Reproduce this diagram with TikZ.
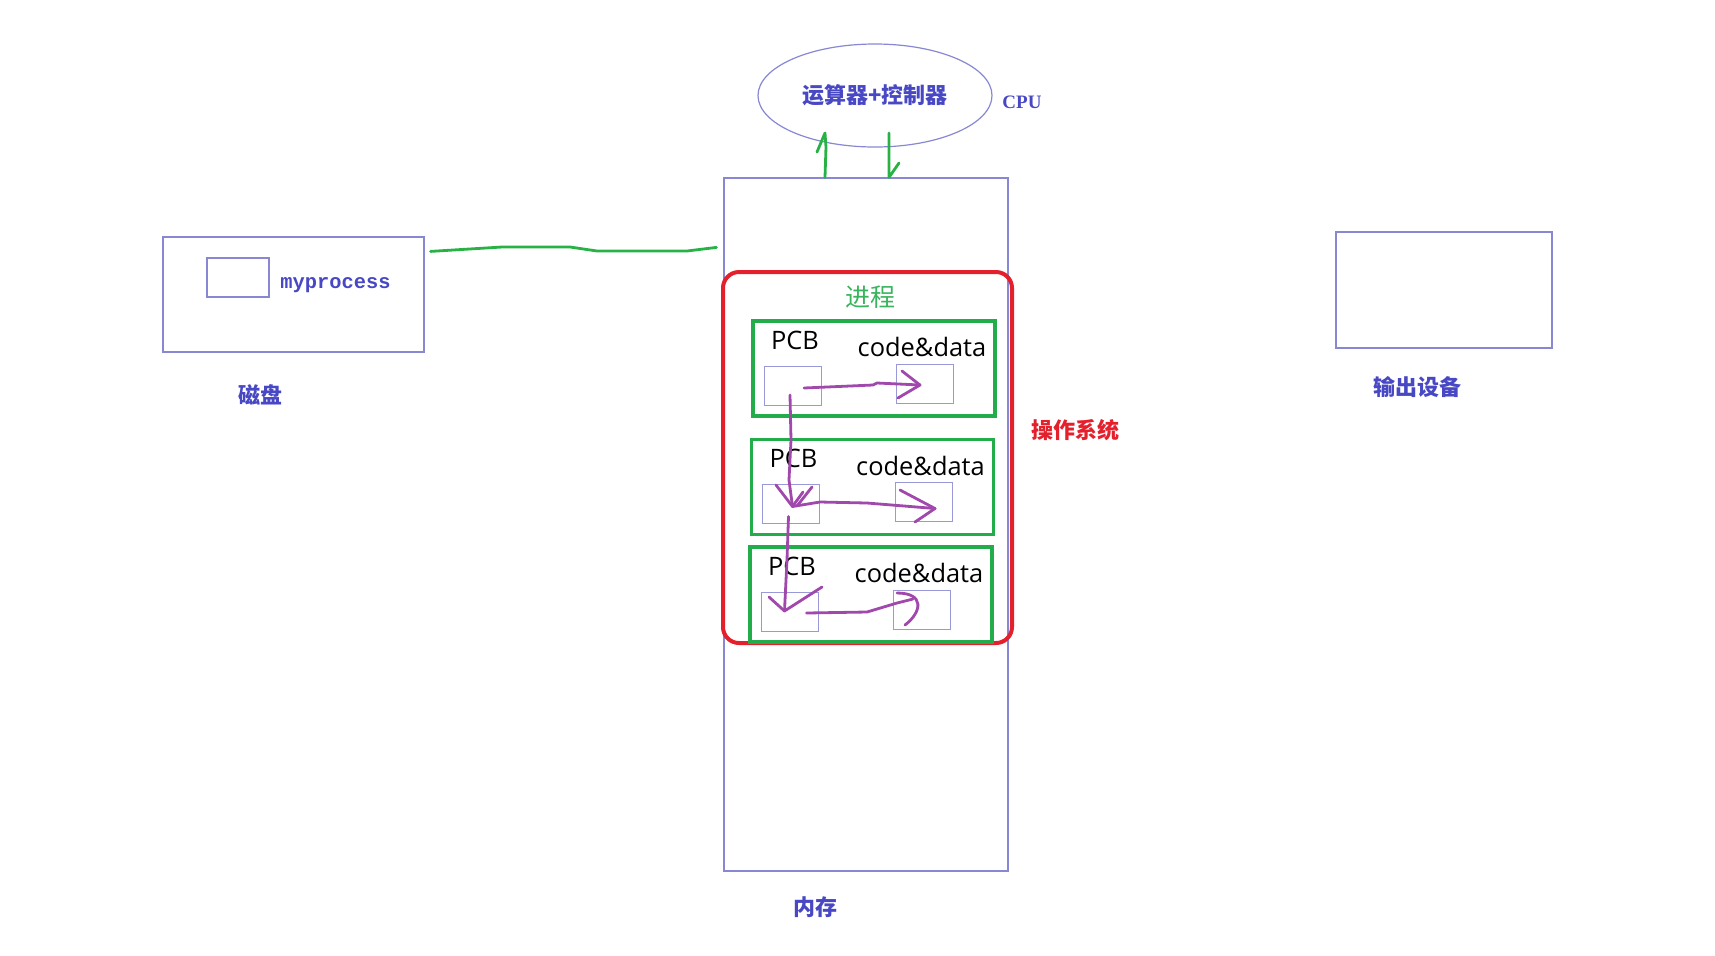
\documentclass[tikz,border=0pt]{standalone}
\usepackage{fontspec}
\setmainfont{Liberation Serif}
\setmonofont{Liberation Mono}
\newfontfamily\cjkfont{Noto Sans CJK SC}
\newfontfamily\latinfont{Open Sans}
\usetikzlibrary{arrows.meta, positioning, shapes.geometric}

\definecolor{hwline}{RGB}{135,135,212}
\definecolor{hwtext}{RGB}{72,72,196}
\definecolor{osred}{RGB}{228,32,44}
\definecolor{procgreen}{RGB}{34,172,74}
\definecolor{pengreen}{RGB}{40,178,70}
\definecolor{penpurple}{RGB}{160,72,172}

\tikzset{
  hwbox/.style={draw=hwline, line width=0.6pt, inner sep=0pt},
  hwlabel/.style={text=hwtext, font=\cjkfont\bfseries\fontsize{11}{13}\selectfont},
  procbox/.style={draw=procgreen, line width=1.8pt, inner sep=0pt,
                  minimum width=121pt, minimum height=47.5pt},
  cellbox/.style={draw=hwline!85, line width=0.5pt, inner sep=0pt,
                  minimum width=28.5pt, minimum height=19.5pt},
  proctext/.style={font=\latinfont\fontsize{12.7}{15}\selectfont, inner sep=0pt},
  pen/.style={draw=penpurple, line width=1.4pt, line cap=round, line join=round},
  greenpen/.style={draw=pengreen, line width=1.4pt, line cap=round, line join=round}
}

\begin{document}
\begin{tikzpicture}[x=0.5pt, y=-0.5pt]
  \useasboundingbox (0,0) rectangle (1715,955);

  % cpu
  \node[hwbox, hwlabel, ellipse, minimum width=117pt, minimum height=51.5pt]
    (alu) at (875,95.5) {运算器+控制器};
  \node[text=hwtext, font=\bfseries\fontsize{9.5}{11}\selectfont] (cpu) at (1022,102) {CPU};

  % memory
  \node[hwbox, minimum width=142pt, minimum height=346.5pt] (mem) at (866,524.5) {};
  \node[hwlabel] (memlbl) at (815,907) {内存};

  % disk
  \node[hwbox, minimum width=130.5pt, minimum height=57.5pt] (disk) at (293.5,294.5) {};
  \node[hwbox, minimum width=31pt, minimum height=19.5pt] (file) at (238,277.5) {};
  \node[text=hwtext, font=\ttfamily\bfseries\fontsize{10.2}{12}\selectfont, anchor=west,
        inner sep=0pt] (fname) at (280,285) {myprocess};
  \node[hwlabel] (disklbl) at (260,395) {磁盘};

  % output device
  \node[hwbox, minimum width=108pt, minimum height=58pt] (out) at (1444,290) {};
  \node[hwlabel] (outlbl) at (1417,387) {输出设备};

  % operating system
  \node[draw=osred, line width=2pt, rounded corners=8pt, inner sep=0pt,
        minimum width=144.5pt, minimum height=185.5pt] (os) at (867.5,457.5) {};
  \node[hwlabel, text=osred] (oslbl) at (1075,430) {操作系统};
  \node[text=procgreen!90!white, font=\cjkfont\fontsize{12.5}{14}\selectfont]
    (proclbl) at (870,297) {进程};

  % processes
  \foreach \i/\x/\y in {1/874/368.5, 2/872.5/487, 3/871/594.5} {
    \node[procbox] (proc\i) at (\x,\y) {};
    \node[proctext] (pcb\i) at ([shift={(-79,-28.5)}]proc\i.center) {PCB};
    \node[proctext] (code\i) at ([shift={(48,-21.5)}]proc\i.center) {code\&data};
    \node[cellbox] (pcbcell\i) at ([shift={(-81.5,17)}]proc\i.center) {};
    \node[cellbox] (codecell\i) at ([shift={(51,15)}]proc\i.center) {};
  }

  % disk -> memory
  \draw[greenpen] ([shift={(6,15)}]disk.north east) -- (502,247) -- (570,247)
    -- (597,251) -- (687,251) -- ([shift={(-7,70)}]mem.north west);

  % memory <-> cpu
  \draw[greenpen] ([xshift=-20.5pt]mem.north) -- (826,147) -- (825,133) -- (817,152);
  \draw[greenpen] (889,133) -- ([xshift=11.5pt]mem.north) -- (899,163);

  % pcb -> code&data
  \draw[pen] ([shift={(11.5,2.5)}]pcbcell1.center) -- (873,385) -- (877,383)
    -- ([shift={(-5,1.5)}]codecell1.center);
  \draw[pen] (902,371) -- ([shift={(-5,1.5)}]codecell1.center) -- (898,398);
  \draw[pen] ([shift={(1.5,2.5)}]pcbcell2.center) -- (820,502) -- (867,503)
    -- ([shift={(11.5,6.5)}]codecell2.center);
  \draw[pen] (900,490) -- ([shift={(11.5,6.5)}]codecell2.center) -- (915,522);
  \draw[pen] ([shift={(17,1.5)}]pcbcell3.center) -- (867,612) -- (897,603)
    -- ([shift={(-9,-10.5)}]codecell3.center);
  \draw[pen] (897,593) .. controls (925,593) and (922,612) .. (905,625);

  % pcb -> next pcb
  \draw[pen] ([shift={(-2.5,9.5)}]pcbcell1.center) -- (791,440) -- (789,480)
    -- ([shift={(1.5,2.5)}]pcbcell2.center);
  \draw[pen] (776,485) -- ([shift={(1.5,2.5)}]pcbcell2.center) -- (803,492);
  \draw[pen] (812,487) -- (797,506);
  \draw[pen] ([shift={(-2.5,12.5)}]pcbcell2.center) -- (787,560)
    -- ([shift={(-5,-0.5)}]pcbcell3.center);
  \draw[pen] (769,597) -- ([shift={(-5,-0.5)}]pcbcell3.center) -- (822,587);
\end{tikzpicture}
\end{document}
